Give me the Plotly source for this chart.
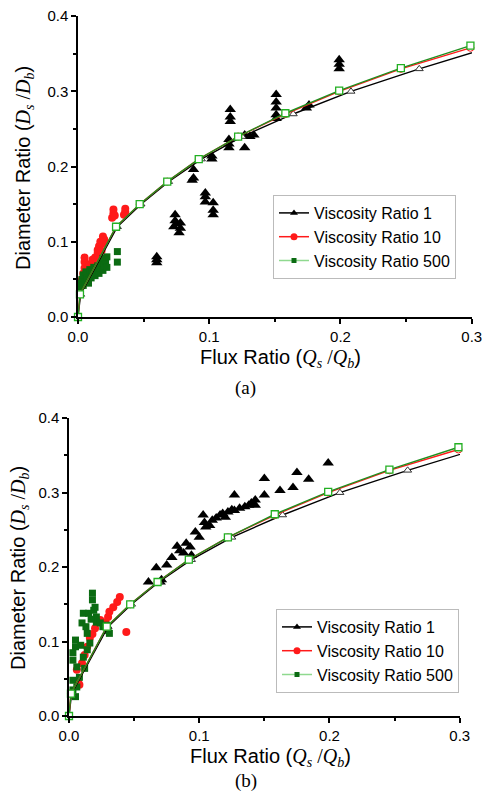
import plotly.graph_objects as go

# ---------------- data ----------------
tick_x = [0.0, 0.1, 0.2, 0.3]
tick_x_text = ["0.0", "0.1", "0.2", "0.3"]
tick_y = [0.0, 0.1, 0.2, 0.3, 0.4]
tick_y_text = ["0.0", "0.1", "0.2", "0.3", "0.4"]
minor_x = [0.05, 0.15, 0.25]
minor_y = [0.05, 0.15, 0.25, 0.35]

series_names = ["Viscosity Ratio 1", "Viscosity Ratio 10", "Viscosity Ratio 500"]

# model curves (open markers, shared by both panels)
model1_x = [0.0, 0.002, 0.030, 0.048, 0.069, 0.094, 0.125, 0.164, 0.208, 0.260, 0.320]
model1_y = [0.0, 0.030, 0.120, 0.150, 0.180, 0.210, 0.240, 0.270, 0.300, 0.330, 0.362]
model10_x = [0.0, 0.0015, 0.029, 0.047, 0.068, 0.092, 0.122, 0.158, 0.199, 0.246, 0.299]
model10_y = [0.0, 0.030, 0.120, 0.150, 0.180, 0.210, 0.240, 0.270, 0.300, 0.330, 0.358]
model500_x = [0.0, 0.0015, 0.029, 0.047, 0.068, 0.092, 0.122, 0.158, 0.199, 0.246, 0.299]
model500_y = [0.0, 0.030, 0.120, 0.150, 0.180, 0.210, 0.240, 0.271, 0.301, 0.331, 0.361]

# panel (a) measured points
a_v1_x = [0.060, 0.060, 0.060, 0.073, 0.074, 0.074, 0.075, 0.077, 0.078, 0.078,
          0.087, 0.088, 0.088, 0.097, 0.097, 0.097, 0.102, 0.102, 0.103, 0.103, 0.103,
          0.115, 0.115, 0.115, 0.116, 0.116, 0.116, 0.127, 0.127, 0.131, 0.134,
          0.151, 0.151, 0.151, 0.151, 0.151, 0.174, 0.176, 0.199, 0.199, 0.199]
a_v1_y = [0.072, 0.076, 0.080, 0.120, 0.128, 0.136, 0.124, 0.112, 0.118, 0.125,
          0.182, 0.185, 0.196, 0.153, 0.160, 0.165, 0.210, 0.214, 0.136, 0.142, 0.152,
          0.225, 0.230, 0.236, 0.260, 0.266, 0.276, 0.225, 0.242, 0.240, 0.242,
          0.264, 0.269, 0.278, 0.286, 0.296, 0.278, 0.282, 0.330, 0.336, 0.342]
a_v10_x = [0.003, 0.004, 0.005, 0.005, 0.005, 0.007, 0.008, 0.009, 0.011, 0.012, 0.013,
           0.014, 0.015, 0.015, 0.016, 0.017, 0.018, 0.019, 0.019, 0.020,
           0.026, 0.027, 0.027, 0.028, 0.035, 0.036, 0.036]
a_v10_y = [0.050, 0.058, 0.065, 0.073, 0.079, 0.060, 0.066, 0.070, 0.076, 0.068, 0.079,
           0.072, 0.085, 0.089, 0.094, 0.100, 0.088, 0.098, 0.107, 0.103,
           0.132, 0.138, 0.143, 0.135, 0.136, 0.140, 0.144]
a_v500_x = [0.001, 0.002, 0.003, 0.004, 0.004, 0.005, 0.006, 0.007, 0.008, 0.008, 0.009,
            0.010, 0.011, 0.012, 0.013, 0.014, 0.015, 0.016, 0.017, 0.018, 0.019, 0.019,
            0.020, 0.021, 0.022, 0.022, 0.030, 0.030]
a_v500_y = [0.040, 0.045, 0.050, 0.042, 0.056, 0.047, 0.060, 0.052, 0.045, 0.058, 0.063,
            0.052, 0.060, 0.066, 0.055, 0.062, 0.068, 0.058, 0.065, 0.072, 0.062, 0.078,
            0.068, 0.074, 0.066, 0.080, 0.073, 0.087]

# panel (b) measured points
b_v1_x = [0.061, 0.067, 0.070, 0.071, 0.075, 0.079, 0.083, 0.085, 0.088, 0.090, 0.093,
          0.094, 0.097, 0.100, 0.103, 0.104, 0.105, 0.108, 0.110, 0.113, 0.116, 0.118,
          0.120, 0.122, 0.125, 0.127, 0.127, 0.131, 0.135, 0.138, 0.140, 0.143, 0.143,
          0.150, 0.150, 0.162, 0.172, 0.175, 0.184, 0.199]
b_v1_y = [0.180, 0.199, 0.180, 0.183, 0.203, 0.213, 0.228, 0.222, 0.219, 0.232, 0.227,
          0.216, 0.247, 0.240, 0.270, 0.260, 0.254, 0.256, 0.263, 0.266, 0.270, 0.272,
          0.267, 0.274, 0.277, 0.297, 0.276, 0.279, 0.281, 0.283, 0.286, 0.290, 0.283,
          0.319, 0.297, 0.303, 0.307, 0.327, 0.318, 0.340]
b_v10_x = [0.006, 0.007, 0.008, 0.010, 0.012, 0.014, 0.016, 0.018, 0.020, 0.024,
           0.028, 0.030, 0.031, 0.034, 0.037, 0.039, 0.044]
b_v10_y = [0.062, 0.046, 0.042, 0.071, 0.082, 0.093, 0.105, 0.110, 0.118, 0.129,
           0.126, 0.133, 0.140, 0.146, 0.153, 0.160, 0.113]
b_v500_x = [0.003, 0.005, 0.003, 0.006, 0.008, 0.003, 0.006, 0.012, 0.011, 0.003, 0.005,
            0.005, 0.014, 0.016, 0.014, 0.010, 0.011, 0.015, 0.019, 0.018, 0.018, 0.020,
            0.021, 0.021, 0.024, 0.026, 0.029, 0.030, 0.031, 0.009, 0.013, 0.017]
b_v500_y = [0.035, 0.026, 0.048, 0.039, 0.052, 0.075, 0.066, 0.064, 0.079, 0.085, 0.093,
            0.102, 0.089, 0.098, 0.111, 0.125, 0.138, 0.138, 0.142, 0.156, 0.165, 0.146,
            0.133, 0.126, 0.125, 0.120, 0.122, 0.115, 0.111, 0.095, 0.120, 0.130]

# ---------------- figure ----------------
SANS = "Liberation Sans, Arial, sans-serif"
SERIF = "Liberation Serif, Times New Roman, serif"
BLACK = "#000000"
RED = "#ff1a1a"
DKGREEN = "#0b6b12"
MODELGREEN = "#1f8f1f"
OPENGREEN = "#22b022"
LEGGREEN = "#8fd98f"

fig = go.Figure()

panels = [
    ("x", "y", "legend", a_v1_x, a_v1_y, a_v10_x, a_v10_y, a_v500_x, a_v500_y),
    ("x2", "y2", "legend2", b_v1_x, b_v1_y, b_v10_x, b_v10_y, b_v500_x, b_v500_y),
]

for xa, ya, leg, v1x, v1y, v10x, v10y, v500x, v500y in panels:
    # measured data
    fig.add_trace(go.Scatter(x=v1x, y=v1y, mode="markers", xaxis=xa, yaxis=ya, showlegend=False,
                             marker=dict(symbol="triangle-up", size=10, color=BLACK)))
    fig.add_trace(go.Scatter(x=v10x, y=v10y, mode="markers", xaxis=xa, yaxis=ya, showlegend=False,
                             marker=dict(symbol="circle", size=8, color=RED)))
    fig.add_trace(go.Scatter(x=v500x, y=v500y, mode="markers", xaxis=xa, yaxis=ya, showlegend=False,
                             marker=dict(symbol="square", size=7, color=DKGREEN)))
    # model curves
    fig.add_trace(go.Scatter(x=model1_x, y=model1_y, mode="lines+markers", xaxis=xa, yaxis=ya,
                             showlegend=False, cliponaxis=True,
                             line=dict(color=BLACK, width=1.4),
                             marker=dict(symbol="triangle-up", size=7, color="white",
                                         line=dict(color="#333333", width=1))))
    fig.add_trace(go.Scatter(x=model10_x, y=model10_y, mode="lines+markers", xaxis=xa, yaxis=ya,
                             showlegend=False, cliponaxis=False,
                             line=dict(color=RED, width=1.4),
                             marker=dict(symbol="circle", size=7, color="white",
                                         line=dict(color=RED, width=1))))
    fig.add_trace(go.Scatter(x=model500_x, y=model500_y, mode="lines+markers", xaxis=xa, yaxis=ya,
                             showlegend=False, cliponaxis=False,
                             line=dict(color=MODELGREEN, width=1.4),
                             marker=dict(symbol="square", size=7, color="white",
                                         line=dict(color=OPENGREEN, width=1.3))))
    # legend entries
    for name, lc, sym, mc, ms in [(series_names[0], BLACK, "triangle-up", BLACK, 7),
                                  (series_names[1], RED, "circle", RED, 7),
                                  (series_names[2], LEGGREEN, "square", DKGREEN, 5)]:
        fig.add_trace(go.Scatter(x=[None], y=[None], mode="lines+markers", name=name,
                                 xaxis=xa, yaxis=ya, legend=leg,
                                 line=dict(color=lc, width=1.5),
                                 marker=dict(symbol=sym, size=ms, color=mc)))

# the page body adds an 8 px margin, so the figure starts at (8, 8) of the window
OFF = 8
W, H = 490 - OFF, 799 - OFF
def px_x(p):
    return (p - OFF) / W
def px_y(p):
    return 1 - (p - OFF) / H

axis_common = dict(
    automargin=False, ticklabeloverflow="allow",
    showline=True, linecolor="black", linewidth=1.5, mirror=False,
    ticks="outside", ticklen=5, tickwidth=1.5, tickcolor="black",
    showgrid=False, zeroline=False,
    tickfont=dict(family=SANS, size=15, color="black"),
    minor=dict(ticks="outside", ticklen=3, tickwidth=1.5, tickcolor="black", showgrid=False),
)

legend_common = dict(
    xanchor="left", yanchor="middle",
    bgcolor="white", bordercolor="#bbbbbb", borderwidth=1,
    font=dict(family=SANS, size=16, color="black"), tracegroupgap=0,
    itemwidth=30,
)

fig.update_layout(
    width=W, height=H,
    margin=dict(l=0, r=0, t=0, b=0, autoexpand=False),
    paper_bgcolor="white", plot_bgcolor="white",
    font=dict(family=SANS, color="black"),
    xaxis=dict(domain=[px_x(78), px_x(472)], range=[0, 0.3002], anchor="y",
               tickvals=tick_x, ticktext=tick_x_text, **axis_common),
    yaxis=dict(domain=[px_y(317), px_y(16)], range=[0, 0.4003], anchor="x",
               tickvals=tick_y, ticktext=tick_y_text, **axis_common),
    xaxis2=dict(domain=[px_x(69), px_x(460)], range=[0, 0.3002], anchor="y2",
                tickvals=tick_x, ticktext=tick_x_text, **axis_common),
    yaxis2=dict(domain=[px_y(716), px_y(418)], range=[0, 0.4003], anchor="x2",
                tickvals=tick_y, ticktext=tick_y_text, **axis_common),
    legend=dict(x=px_x(273), y=px_y(237), **legend_common),
    legend2=dict(x=px_x(276), y=px_y(651), **legend_common),
)
fig.update_xaxes(minor_tickvals=minor_x)
fig.update_yaxes(minor_tickvals=minor_y)

ytitle = ("Diameter Ratio (<span style='font-family:Liberation Serif'><i>D<sub>s</sub></i> /"
          "<i>D<sub>b</sub></i></span>)")
xtitle = ("Flux Ratio (<span style='font-family:Liberation Serif'><i>Q<sub>s</sub></i> /"
          "<i>Q<sub>b</sub></i></span>)")

annos = [
    dict(text=ytitle, x=px_x(25), y=px_y(168), textangle=-90),
    dict(text=xtitle, x=px_x(280), y=px_y(358)),
    dict(text=ytitle, x=px_x(19), y=px_y(568), textangle=-90),
    dict(text=xtitle, x=px_x(270), y=px_y(757)),
]
for a in annos:
    fig.add_annotation(xref="paper", yref="paper", showarrow=False,
                       xanchor="center", yanchor="middle",
                       font=dict(family=SANS, size=20, color="black"), **a)

fig.add_annotation(text="(a)", xref="paper", yref="paper", x=px_x(245), y=px_y(388),
                   showarrow=False, xanchor="center", yanchor="middle",
                   font=dict(family=SERIF, size=19, color="black"))
fig.add_annotation(text="(b)", xref="paper", yref="paper", x=px_x(246), y=px_y(781),
                   showarrow=False, xanchor="center", yanchor="middle",
                   font=dict(family=SERIF, size=19, color="black"))

fig.write_html("out.html")
